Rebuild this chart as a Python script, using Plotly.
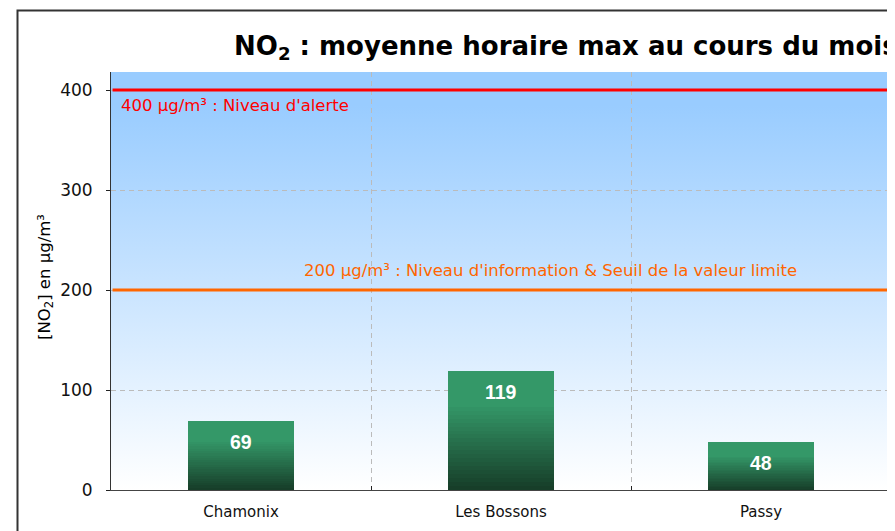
import base64
import plotly.graph_objects as go

# ---- data ----
categories = ["Chamonix", "Les Bossons", "Passy"]
no2_max = [69, 119, 48]
thresholds = [400, 200]
threshold_labels = [
    "400 µg/m³ : Niveau d'alerte",
    "200 µg/m³ : Niveau d'information & Seuil de la valeur limite",
]
threshold_colors = ["#FF0000", "#FF6600"]
y_ticks = [0, 100, 200, 300, 400]
title_text = "NO<sub>2</sub> : moyenne horaire max au cours du mois"
y_title = "[NO<sub>2</sub>] en µg/m³"

# ---- layout geometry (page has an 8px body margin) ----
OFF = 8
W, H = 895 - OFF, 531 - OFF
PL, PR, PT, PB = 111 - OFF, 891 - OFF, 72 - OFF, 490 - OFF   # plot area in figure px
ML, MR, MT, MB = PL, W - PR, PT, H - PB
PW, PH = PR - PL, PB - PT


def px_x(p):
    """reference-screen x pixel -> paper coordinate"""
    return (p - OFF - PL) / PW


def px_y(p):
    """reference-screen y pixel -> paper coordinate"""
    return (PB - (p - OFF)) / PH


def lerp(c1, c2, t):
    return "rgb(%d,%d,%d)" % tuple(round(a + (b - a) * t) for a, b in zip(c1, c2))


dark = (22, 60, 40)
light = (52, 152, 104)
NSEG = 30

fig = go.Figure()
for i in range(NSEG):
    t = min(1.0, (i + 0.5) / (NSEG * 0.72))
    fig.add_trace(go.Bar(
        x=categories,
        y=[v / NSEG for v in no2_max],
        marker=dict(color=lerp(dark, light, t), line=dict(width=0)),
        hoverinfo="skip",
        showlegend=False,
    ))

# background gradient (plot area)
svg = ('<svg xmlns="http://www.w3.org/2000/svg" width="100" height="100" viewBox="0 0 100 100" '
       'preserveAspectRatio="none"><defs><linearGradient id="g" x1="0" y1="0" x2="0" y2="1">'
       '<stop offset="0" stop-color="#99CCFF"/><stop offset="0.08" stop-color="#99CCFF"/>'
       '<stop offset="1" stop-color="#FFFFFF"/></linearGradient></defs>'
       '<rect x="0" y="0" width="100" height="100" fill="url(#g)"/></svg>')
bg_src = "data:image/svg+xml;base64," + base64.b64encode(svg.encode()).decode()

shapes = []
annotations = []
for val, col in zip(thresholds, threshold_colors):
    shapes.append(dict(type="line", xref="paper", yref="y", x0=0.002, x1=0.997, y0=val, y1=val,
                       line=dict(color=col, width=3), layer="above"))
annotations.append(dict(xref="paper", yref="y", x=px_x(119), y=thresholds[0], yshift=-15,
                        text=threshold_labels[0], showarrow=False, xanchor="left", yanchor="middle",
                        font=dict(family="DejaVu Sans", size=16.5, color=threshold_colors[0])))
annotations.append(dict(xref="paper", yref="y", x=px_x(302), y=thresholds[1], yshift=20,
                        text=threshold_labels[1], showarrow=False, xanchor="left", yanchor="middle",
                        font=dict(family="DejaVu Sans", size=16.5, color=threshold_colors[1])))

for c, v in zip(categories, no2_max):
    annotations.append(dict(x=c, y=v, xref="x", yref="y", yshift=-21, text="<b>%d</b>" % v,
                            showarrow=False, yanchor="middle",
                            font=dict(family="Liberation Sans, Arial", size=19.5, color="white")))

# title
annotations.append(dict(xref="paper", yref="paper", x=px_x(232), y=px_y(47), text="<b>" + title_text + "</b>",
                        showarrow=False, xanchor="left", yanchor="middle",
                        font=dict(family="DejaVu Sans", size=26, color="black")))
# y-axis title
annotations.append(dict(xref="paper", yref="paper", x=px_x(45), y=px_y(277), text=y_title,
                        showarrow=False, textangle=-90, xanchor="center", yanchor="middle",
                        font=dict(family="DejaVu Sans", size=16.5, color="black")))

# outer border (cropped frame)
shapes.append(dict(type="rect", xref="paper", yref="paper", x0=px_x(17.5), y0=-0.5, x1=1.5, y1=px_y(10.5),
                   line=dict(color="#333333", width=2), fillcolor="rgba(0,0,0,0)", layer="above"))

fig.update_layout(
    width=W, height=H,
    margin=dict(l=ML, r=MR, t=MT, b=MB, pad=0),
    barmode="stack",
    bargap=0.59,
    paper_bgcolor="white",
    plot_bgcolor="white",
    showlegend=False,
    shapes=shapes,
    annotations=annotations,
    images=[dict(source=bg_src, xref="paper", yref="paper", x=0, y=1, sizex=1, sizey=1,
                 sizing="stretch", xanchor="left", yanchor="top", layer="below")],
    xaxis=dict(
        type="category", range=[-0.5, 2.5], tickson="boundaries",
        showgrid=True, gridcolor="#BBBBBB", griddash="5px,4px", gridwidth=1,
        showline=True, linecolor="#444444", linewidth=1,
        ticks="inside", ticklen=4, tickcolor="#222222",
        tickfont=dict(family="DejaVu Sans", size=15, color="#111111"),
        ticklabelstandoff=8,
        zeroline=False,
    ),
    yaxis=dict(
        range=[0, 418], tickvals=y_ticks,
        showgrid=True, gridcolor="#BBBBBB", griddash="5px,4px", gridwidth=1,
        showline=True, linecolor="#333333", linewidth=1,
        ticks="outside", ticklen=4, tickcolor="#222222",
        tickfont=dict(family="DejaVu Sans", size=17, color="#111111"),
        ticklabelstandoff=10,
        zeroline=False,
    ),
)

fig.write_html("out.html")
